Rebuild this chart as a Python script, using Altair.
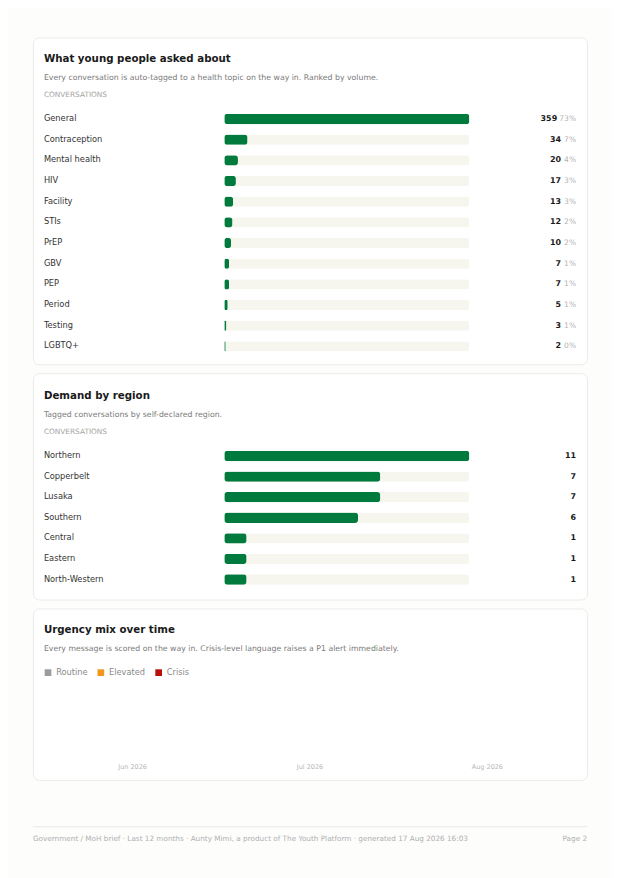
import altair as alt
import pandas as pd

# ---------------- data ----------------
topics = ["General", "Contraception", "Mental health", "HIV", "Facility", "STIs",
          "PrEP", "GBV", "PEP", "Period", "Testing", "LGBTQ+"]
topic_counts = [359, 34, 20, 17, 13, 12, 10, 7, 7, 5, 3, 2]
topic_pcts = ["73%", "7%", "4%", "3%", "3%", "2%", "2%", "1%", "1%", "1%", "1%", "0%"]

regions = ["Northern", "Copperbelt", "Lusaka", "Southern", "Central", "Eastern", "North-Western"]
region_counts = [11, 7, 7, 6, 1, 1, 1]

months = ["Jun 2026", "Jul 2026", "Aug 2026"]
routine = [0, 0, 0]
elevated = [0, 0, 0]
crisis = [0, 0, 0]
levels = ["Routine", "Elevated", "Crisis"]
level_colors = ["#9b9b9b", "#f5961e", "#b80f0a"]

footer_left = ("Government / MoH brief \u00b7 Last 12 months \u00b7 Aunty Mimi, a product of "
               "The Youth Platform \u00b7 generated 17 Aug 2026 16:03")
footer_right = "Page 2"

# ---------------- style ----------------
FONT = "DejaVu Sans"
GREEN = "#007a3d"
TRACK = "#f6f5ee"
W = 556
H1, H2, H3, HF = 328, 227, 172, 56
GAP = 7


def txt(s, x, y, size, color, weight="normal", align="left"):
    return alt.Chart(pd.DataFrame({"t": [s]})).mark_text(
        align=align, baseline="middle", fontSize=size, color=color,
        fontWeight=weight, font=FONT
    ).encode(x=alt.value(x), y=alt.value(y), text="t:N")


def header(title, subtitle, y0, with_conv=True):
    layers = [
        txt(title, 11, y0, 10.3, "#1a1a1a", weight="bold"),
        txt(subtitle, 11, y0 + 19, 7.8, "#7a7a7a"),
    ]
    if with_conv:
        layers.append(txt("CONVERSATIONS", 11, y0 + 36, 7.4, "#a3a3a3"))
    return layers


# ---------------- card 1 ----------------
df1 = pd.DataFrame({"topic": topics, "count": topic_counts, "pct": topic_pcts})
y1 = alt.Y("topic:N", sort=topics, axis=None,
           scale=alt.Scale(range=[71.6, 320.4], paddingInner=0.5, paddingOuter=0.25))
xs1 = alt.Scale(range=[192, 438], nice=False, zero=True)
b1 = alt.Chart(df1)

track1 = b1.transform_joinaggregate(mx="max(count)").mark_bar(
    color=TRACK, cornerRadius=3).encode(x=alt.X("mx:Q", scale=xs1, axis=None), y=y1)
bars1 = b1.mark_bar(color=GREEN, cornerRadius=3).encode(
    x=alt.X("count:Q", scale=xs1, axis=None), y=y1)
lab1 = b1.mark_text(align="left", baseline="middle", fontSize=8.3, color="#333333", font=FONT).encode(
    x=alt.value(11), y=y1, text="topic:N")
num1a = b1.transform_filter("length(datum.pct) == 3").mark_text(
    align="right", baseline="middle", fontSize=8, fontWeight="bold", color="#1a1a1a",
    font=FONT, dx=-19).encode(x=alt.value(545), y=y1, text="count:Q")
num1b = b1.transform_filter("length(datum.pct) == 2").mark_text(
    align="right", baseline="middle", fontSize=8, fontWeight="bold", color="#1a1a1a",
    font=FONT, dx=-15).encode(x=alt.value(545), y=y1, text="count:Q")
pct1 = b1.mark_text(align="right", baseline="middle", fontSize=7.6, color="#b3b3b3", font=FONT).encode(
    x=alt.value(545), y=y1, text="pct:N")

card1 = alt.layer(
    track1, bars1, lab1, num1a, num1b, pct1,
    *header("What young people asked about",
            "Every conversation is auto-tagged to a health topic on the way in. Ranked by volume.", 22)
).properties(width=W, height=H1)

# ---------------- card 2 ----------------
df2 = pd.DataFrame({"region": regions, "count": region_counts})
y2 = alt.Y("region:N", sort=regions, axis=None,
           scale=alt.Scale(range=[72.7, 217.3], paddingInner=0.5, paddingOuter=0.25))
xs2 = alt.Scale(range=[192, 438], nice=False, zero=True)
b2 = alt.Chart(df2)

track2 = b2.transform_joinaggregate(mx="max(count)").mark_bar(
    color=TRACK, cornerRadius=3).encode(x=alt.X("mx:Q", scale=xs2, axis=None), y=y2)
bars2 = b2.mark_bar(color=GREEN, cornerRadius=3).encode(
    x=alt.X("count:Q", scale=xs2, axis=None), y=y2)
lab2 = b2.mark_text(align="left", baseline="middle", fontSize=8.3, color="#333333", font=FONT).encode(
    x=alt.value(11), y=y2, text="region:N")
num2 = b2.mark_text(align="right", baseline="middle", fontSize=8, fontWeight="bold",
                    color="#1a1a1a", font=FONT).encode(x=alt.value(545), y=y2, text="count:Q")

card2 = alt.layer(
    track2, bars2, lab2, num2,
    *header("Demand by region", "Tagged conversations by self-declared region.", 23)
).properties(width=W, height=H2)

# ---------------- card 3 ----------------
# legend with orient "none" is placed relative to the whole concatenation
legend_y = H1 + GAP + H2 + GAP + 64
df3 = pd.DataFrame({"month": months, "Routine": routine, "Elevated": elevated, "Crisis": crisis})
bars3 = alt.Chart(df3).transform_fold(levels, as_=["level", "value"]).mark_bar().encode(
    x=alt.X("month:N", sort=months, title=None,
            scale=alt.Scale(range=[11, 545], paddingInner=0.3, paddingOuter=0.15),
            axis=alt.Axis(labelAngle=0, domain=False, ticks=False, labelColor="#b5b5b5",
                          labelFontSize=6.5, labelFont=FONT, offset=-18, labelPadding=2)),
    y=alt.Y("value:Q", stack=True, axis=None, scale=alt.Scale(domain=[0, 1], range=[150, 82])),
    color=alt.Color("level:N", sort=levels,
                    scale=alt.Scale(domain=levels, range=level_colors),
                    legend=alt.Legend(orient="none", legendX=11, legendY=legend_y, direction="horizontal",
                                      symbolType="square", symbolSize=45, symbolStrokeWidth=0,
                                      labelFontSize=8.3, labelColor="#8a8a8a", labelFont=FONT,
                                      title=None, columnPadding=9, labelOffset=4)),
)

card3 = alt.layer(
    bars3,
    *header("Urgency mix over time",
            "Every message is scored on the way in. Crisis-level language raises a P1 alert immediately.",
            22, with_conv=False)
).properties(width=W, height=H3)

# ---------------- footer ----------------
rule = alt.Chart(pd.DataFrame({"a": [0]})).mark_rule(color="#e8e8e5", strokeWidth=1).encode(
    x=alt.value(0), x2=alt.value(W), y=alt.value(38))
foot = alt.layer(
    rule,
    txt(footer_left, 0, 50, 7.3, "#b0b0b0"),
    txt(footer_right, W, 50, 7.3, "#b0b0b0", align="right"),
).properties(width=W, height=HF, view=alt.ViewBackground(stroke="transparent", fill="transparent"))

chart = alt.vconcat(card1, card2, card3, foot, spacing=GAP).properties(
    padding={"left": 24, "top": 27, "right": 24, "bottom": 31},
    background="#fdfdfc",
).configure_view(
    stroke="#ebebe8", fill="#ffffff", cornerRadius=6, strokeWidth=1
)

chart.save("out.html", embed_options={"renderer": "svg", "actions": False})
